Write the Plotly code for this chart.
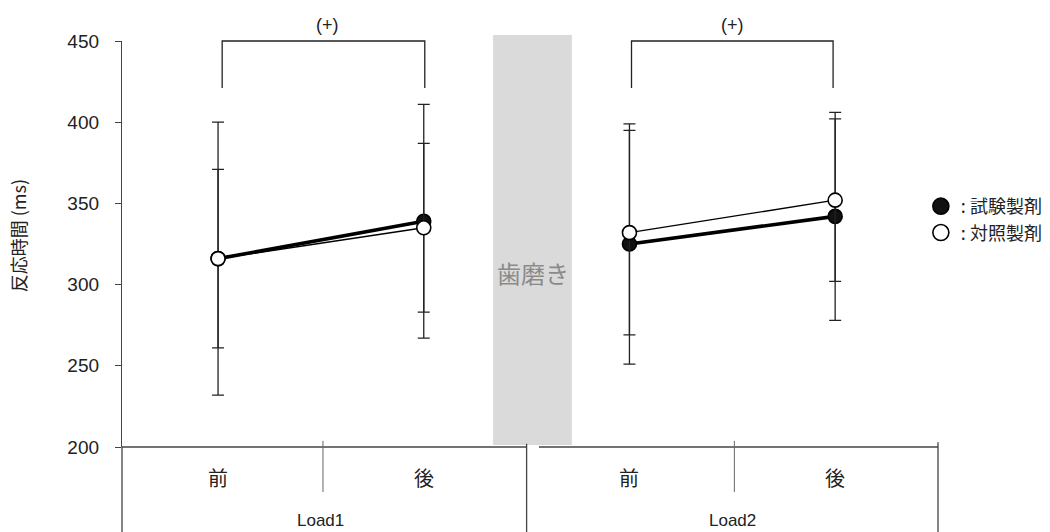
import plotly.graph_objects as go

# ---- data ----
phases = ["前", "後", "前", "後"]
loads = ["Load1", "Load2"]
x_pos = [1, 2, 3, 4]
test_mean = [316, 339, 325, 342]      # 試験製剤 (filled)
test_sd = [84, 72, 74, 64]
ctrl_mean = [316, 335, 332, 352]      # 対照製剤 (open)
ctrl_sd = [55, 52, 63, 50]
sig_labels = ["(+)", "(+)"]
y_ticks = [200, 250, 300, 350, 400, 450]

FONT = "Liberation Sans, Arial, Noto Sans CJK JP, sans-serif"
CJK = "Noto Sans CJK JP, sans-serif"
INK = "#222222"

fig = go.Figure()

def add_series(mean, sd, fill, lw, name):
    for seg in (slice(0, 2), slice(2, 4)):
        fig.add_trace(go.Scatter(
            x=x_pos[seg], y=mean[seg], mode="lines+markers",
            line=dict(color="black", width=lw),
            marker=dict(size=14, color=fill, line=dict(color="black", width=1.6)),
            error_y=dict(type="data", array=sd[seg], color=INK, thickness=1.3, width=6),
            showlegend=False, cliponaxis=False, hoverinfo="skip"))
    fig.add_trace(go.Scatter(
        x=[None], y=[None], mode="markers", name=name,
        marker=dict(size=16, color=fill, line=dict(color="black", width=1.6))))

add_series(test_mean, test_sd, "#111111", 3.6, ": 試験製剤")
add_series(ctrl_mean, ctrl_sd, "white", 1.4, ": 対照製剤")

shapes = []
# toothbrushing shaded block
shapes.append(dict(type="rect", xref="x", yref="paper", x0=2.337, x1=2.72,
                   y0=0.005, y1=1.015, fillcolor="#dadada", line=dict(width=0), layer="below"))
# bottom axis lines (split)
line = dict(color="#444444", width=1.3)
shapes.append(dict(type="line", xref="paper", yref="paper", x0=0, x1=0.4955, y0=0, y1=0, line=line))
shapes.append(dict(type="line", xref="x", yref="paper", x0=2.56, x1=4.5, y0=0, y1=0, line=line))
# table verticals
shapes.append(dict(type="line", xref="paper", yref="paper", x0=0, x1=0, y0=0, y1=-0.21, line=line))
shapes.append(dict(type="line", xref="x", yref="paper", x0=2.5, x1=2.5, y0=0.008, y1=-0.21, line=line))
shapes.append(dict(type="line", xref="paper", yref="paper", x0=1, x1=1, y0=0.012, y1=-0.21, line=line))
for xd in (1.51, 3.51):
    shapes.append(dict(type="line", xref="x", yref="paper", x0=xd, x1=xd, y0=0.015, y1=-0.111,
                       line=dict(color="#666666", width=1)))
# significance brackets
for a, b in ((1.02, 2.005), (3.01, 3.99)):
    shapes.append(dict(type="path", xref="x", yref="paper",
                       path=f"M {a},0.884 L {a},1.0 L {b},1.0 L {b},0.884",
                       line=dict(color=INK, width=1.3)))

ann = []
for xp, lab in zip(x_pos, phases):
    ann.append(dict(x=xp, y=-0.074, xref="x", yref="paper", text=lab, showarrow=False,
                    font=dict(family=CJK, size=20, color=INK), yanchor="middle"))
for xp, lab in zip([1.5, 3.5], loads):
    ann.append(dict(x=xp, y=-0.18, xref="x", yref="paper", text=lab, showarrow=False,
                    font=dict(family=FONT, size=17, color=INK), yanchor="middle"))
for xp, lab in zip([1.53, 3.5], sig_labels):
    ann.append(dict(x=xp, y=1.039, xref="x", yref="paper", text=lab, showarrow=False,
                    font=dict(family=FONT, size=18, color=INK), yanchor="middle"))
ann.append(dict(x=2.53, y=0.43, xref="x", yref="paper", text="歯磨き", showarrow=False,
                font=dict(family=CJK, size=24, color="#8a8a8a"), yanchor="middle"))
ann.append(dict(x=-0.127, y=0.52, xref="paper", yref="paper", text="反応時間 (ms)", showarrow=False,
                textangle=-90, xanchor="center", yanchor="middle",
                font=dict(family=CJK, size=18, color=INK)))

fig.update_layout(
    width=1050, height=532,
    margin=dict(l=122, r=112, t=41, b=85, autoexpand=False),
    paper_bgcolor="white", plot_bgcolor="white",
    font=dict(family=FONT, color=INK),
    shapes=shapes, annotations=ann,
    legend=dict(x=0.979, y=0.638, xanchor="left", yanchor="top",
                font=dict(family=CJK, size=18, color=INK),
                bgcolor="rgba(0,0,0,0)", itemwidth=30, tracegroupgap=0),
    xaxis=dict(range=[0.533, 4.5], visible=False, fixedrange=True),
    yaxis=dict(range=[200, 450], tickvals=y_ticks, ticks="outside", ticklen=6,
               tickcolor="#444444", showline=True, linecolor="#444444", linewidth=1.3,
               showgrid=False, zeroline=False, tickfont=dict(size=19, color=INK),
               ticklabelstandoff=12),
)

fig.write_html("out.html")
